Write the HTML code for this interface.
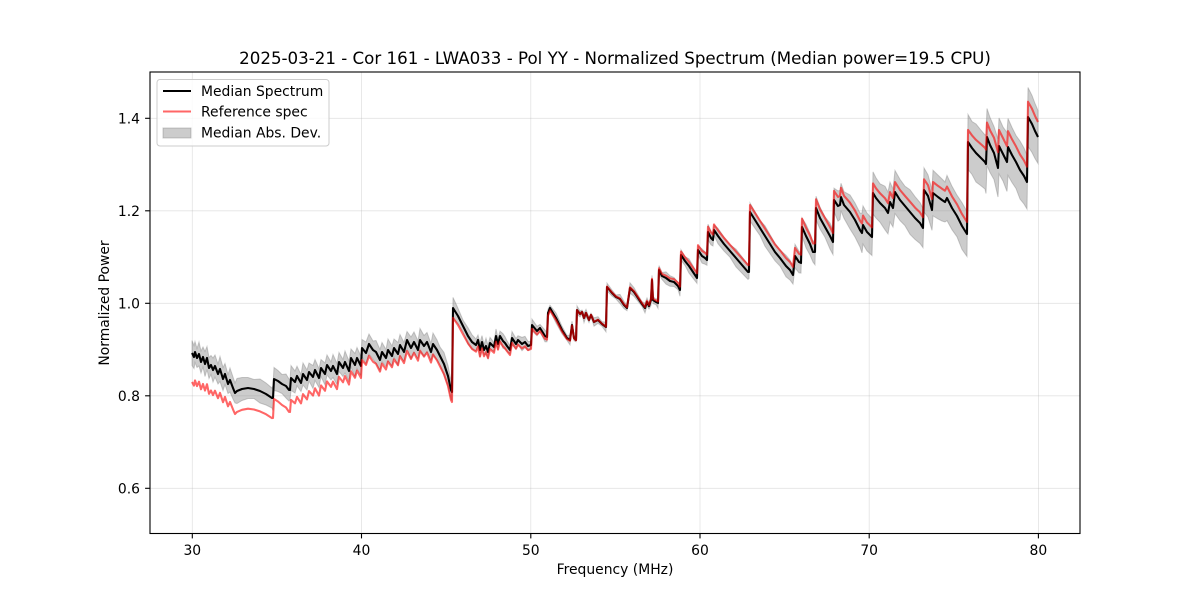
<!DOCTYPE html>
<html><head><meta charset="utf-8">
<style>
html,body{margin:0;padding:0;background:#fff;}
svg{display:block;font-family:"DejaVu Sans","Liberation Sans",sans-serif;}
</style></head>
<body>
<svg id="c" width="1200" height="600" viewBox="0 0 1200 600" xmlns="http://www.w3.org/2000/svg">
<rect width="1200" height="600" fill="#fff"/>
<defs><clipPath id="ax"><rect x="150" y="72" width="930" height="461.5"/></clipPath></defs>
<!-- grid -->
<g stroke="#b0b0b0" stroke-opacity="0.35" stroke-width="0.8">
<line x1="192.3" y1="72" x2="192.3" y2="533"/>
<line x1="361.5" y1="72" x2="361.5" y2="533"/>
<line x1="530.8" y1="72" x2="530.8" y2="533"/>
<line x1="700" y1="72" x2="700" y2="533"/>
<line x1="869.2" y1="72" x2="869.2" y2="533"/>
<line x1="1038.4" y1="72" x2="1038.4" y2="533"/>
<line x1="150" y1="118.3" x2="1080" y2="118.3"/>
<line x1="150" y1="210.8" x2="1080" y2="210.8"/>
<line x1="150" y1="303.3" x2="1080" y2="303.3"/>
<line x1="150" y1="395.8" x2="1080" y2="395.8"/>
<line x1="150" y1="488.3" x2="1080" y2="488.3"/>
</g>
<g clip-path="url(#ax)">
<path id="band" d="" fill="#808080" fill-opacity="0.4" stroke="#808080" stroke-opacity="0.4" stroke-width="1"/>
<path id="blk" d="" fill="none" stroke="#000" stroke-width="2.08" stroke-linejoin="round"/>
<path id="red" d="" fill="none" stroke="#ff0000" stroke-opacity="0.6" stroke-width="2.08" stroke-linejoin="round"/>
</g>
<!-- spines -->
<rect x="150" y="72" width="930" height="461.5" fill="none" stroke="#000" stroke-width="1.1"/>
<!-- ticks -->
<g stroke="#000" stroke-width="1.1">
<line x1="192.3" y1="533.5" x2="192.3" y2="538.4"/>
<line x1="361.5" y1="533.5" x2="361.5" y2="538.4"/>
<line x1="530.8" y1="533.5" x2="530.8" y2="538.4"/>
<line x1="700" y1="533.5" x2="700" y2="538.4"/>
<line x1="869.2" y1="533.5" x2="869.2" y2="538.4"/>
<line x1="1038.4" y1="533.5" x2="1038.4" y2="538.4"/>
<line x1="145.1" y1="118.3" x2="150" y2="118.3"/>
<line x1="145.1" y1="210.8" x2="150" y2="210.8"/>
<line x1="145.1" y1="303.3" x2="150" y2="303.3"/>
<line x1="145.1" y1="395.8" x2="150" y2="395.8"/>
<line x1="145.1" y1="488.3" x2="150" y2="488.3"/>
</g>
<g font-size="13.9" fill="#000" text-anchor="middle">
<text x="192.3" y="555">30</text>
<text x="361.5" y="555">40</text>
<text x="530.8" y="555">50</text>
<text x="700" y="555">60</text>
<text x="869.2" y="555">70</text>
<text x="1038.4" y="555">80</text>
</g>
<g font-size="13.9" fill="#000" text-anchor="end">
<text x="140" y="123.3">1.4</text>
<text x="140" y="215.8">1.2</text>
<text x="140" y="308.3">1.0</text>
<text x="140" y="400.8">0.8</text>
<text x="140" y="493.3">0.6</text>
</g>
<text x="615" y="574" font-size="13.9" text-anchor="middle">Frequency (MHz)</text>
<text transform="translate(109,303) rotate(-90)" font-size="13.9" text-anchor="middle">Normalized Power</text>
<text x="615" y="64" font-size="16.67" text-anchor="middle">2025-03-21 - Cor 161 - LWA033 - Pol YY - Normalized Spectrum (Median power=19.5 CPU)</text>
<!-- legend -->
<rect x="157" y="79.5" width="172" height="66.5" rx="3" fill="#fff" fill-opacity="0.8" stroke="#cccccc" stroke-width="1"/>
<line x1="163" y1="91" x2="191" y2="91" stroke="#000" stroke-width="2.08"/>
<line x1="163" y1="111.5" x2="191" y2="111.5" stroke="#ff0000" stroke-opacity="0.6" stroke-width="2.08"/>
<rect x="163" y="128" width="28" height="10" fill="#808080" fill-opacity="0.4" stroke="#808080" stroke-opacity="0.4" stroke-width="1"/>
<g font-size="13.9" fill="#000">
<text x="201" y="96">Median Spectrum</text>
<text x="201" y="116.5">Reference spec</text>
<text x="201" y="137.5">Median Abs. Dev.</text>
</g>
</svg>
<script>
(function(){
var s="192,353 194,357 195,352 197,358 199,354 201,362 203,357 205,364 207,358 209,368 211,365 213,370 215,366 218,374 220,369 223,379 225,374 228,384 230,380 233,388 235,393 "+
"237,391 242,389 248,388 254,389 260,391 266,394 272,398 273,398 274,379 278,381 282,384 286,386 289,390 290,390 "+
"291,378 295,382 297,376 301,383 303,374 307,380 309,372 313,377 315,370 319,378 321,368 325,374 327,365 331,371 333,366 337,374 339,362 343,368 345,362 349,371 351,358 355,365 357,358 361,366 362,348 366,353 369,344 373,350 376,352 380,360 382,352 386,358 388,350 392,356 394,348 398,354 400,345 404,352 407,340 411,348 414,342 418,350 420,340 424,346 427,342 431,352 433,344 437,350 440,356 444,364 448,376 451,390 452,392 "+
"453,308 458,316 463,326 468,336 472,342 476,345 478,340 480,350 482,342 484,350 486,346 488,352 490,343 494,347 496,336 498,344 500,336 503,341 505,343 507,346 510,350 512,338 516,344 518,340 522,344 525,342 528,346 531,345 532,325 537,331 540,328 545,336 547,337 548,313 550,308 556,318 562,330 567,338 570,340 572,325 574,338 576,340 577,310 580,314 582,312 584,318 586,313 589,320 591,315 594,322 598,320 602,324 606,327 607,287 612,293 616,297 620,299 624,305 627,308 630,288 634,292 638,298 642,304 645,308 647,302 649,306 651,300 652,280 653,300 656,302 658,303 659,270 662,276 666,278 670,281 674,282 678,286 680,290 681,255 685,261 689,266 693,272 697,278 698,250 702,256 705,258 707,260 708,232 711,238 713,240 714,230 718,236 724,244 730,251 736,258 742,265 748,272 749,272 750,212 755,220 760,228 765,236 770,244 775,252 780,258 786,266 790,270 793,275 795,256 799,262 801,263 802,227 806,236 810,244 813,252 815,252 816,208 820,218 825,227 830,236 833,242 834,200 838,206 840,205 841,197 844,205 850,212 855,220 860,230 862,233 863,225 867,232 872,237 873,193 876,198 880,203 885,208 888,213 890,202 893,208 895,192 900,200 905,206 910,212 915,218 920,223 923,228 924,190 928,196 932,210 933,193 938,197 942,200 945,202 947,198 952,208 957,216 962,226 967,234 968,142 972,148 976,153 980,157 985,162 986,164 987,137 990,145 994,153 998,168 999,146 1003,154 1007,162 1008,147 1012,155 1016,162 1020,170 1024,176 1027,182 1028,117 1032,124 1035,131 1038,137";
var P=s.trim().split(/\s+/).map(function(t){var a=t.split(",");return [+a[0],+a[1]];});
var D=[[192,29],[235,21],[274,20],[290,22],[330,16],[361,12],[452,10],[470,7],[530,4],[580,0],[650,-1],[700,-5],[750,-7],[830,-9],[900,-10],[967,-12],[1000,-16],[1038,-15]];
var W=[[192,11],[290,11],[300,10],[452,10],[460,7],[530,5],[580,3],[650,4],[700,6],[750,8],[830,12],[870,20],[967,22],[968,28],[1038,28]];
function f(T,x){if(x<=T[0][0])return T[0][1];for(var i=1;i<T.length;i++){if(x<=T[i][0]){var a=T[i-1],b=T[i];return a[1]+(b[1]-a[1])*(x-a[0])/(b[0]-a[0]);}}return T[T.length-1][1];}
function path(arr){return "M"+arr.map(function(p){return p[0].toFixed(1)+","+p[1].toFixed(1);}).join(" L");}
document.getElementById("blk").setAttribute("d",path(P));
document.getElementById("red").setAttribute("d",path(P.map(function(p){return [p[0],p[1]+f(D,p[0])];})));
var up=[],lo=[];
P.forEach(function(p,i){var w=f(W,p[0]);var j=((i*37)%7-3)*0.5;up.push([p[0],p[1]-w+j]);lo.push([p[0],p[1]+w-j]);});
document.getElementById("band").setAttribute("d",path(up.concat(lo.reverse()))+" Z");
})();
</script>
</body></html>
